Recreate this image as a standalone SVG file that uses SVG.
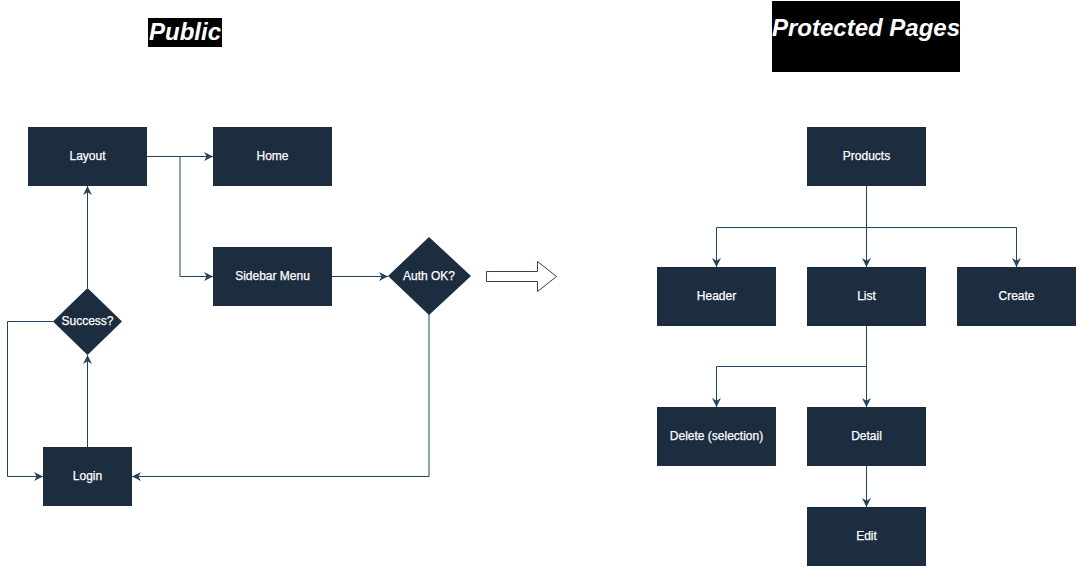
<svg xmlns="http://www.w3.org/2000/svg" width="1077" height="567" viewBox="0 0 1077 567">
<style>
.n{fill:#1b2d3f}
.t{fill:#ffffff;font-family:"Liberation Sans",Arial,sans-serif;font-size:12px;text-anchor:middle;stroke:#ffffff;stroke-width:0.25}
.h{fill:#ffffff;font-family:"Liberation Sans",Arial,sans-serif;font-size:24px;font-weight:bold;font-style:italic;text-anchor:middle}
.e{fill:none;stroke:#23445d;stroke-width:1}
</style>
<defs>
<marker id="a" viewBox="0 0 10 10" refX="10" refY="5" markerWidth="9" markerHeight="9" markerUnits="userSpaceOnUse" orient="auto">
<path d="M0,0 L10,5 L0,10 L3,5 Z" fill="#23445d"/>
</marker>
</defs>
<rect width="1077" height="567" fill="#ffffff"/>
<g id="title-public">
<rect x="148" y="18" width="74" height="29" fill="#000000"/>
<text class="h" x="185" y="40">Public</text>
</g>
<g id="title-protected">
<rect x="772" y="1" width="188" height="71" fill="#000000"/>
<text class="h" x="866" y="36">Protected Pages</text>
</g>
<g id="connectors">
<path class="e" d="M147,156.5 L213,156.5" marker-end="url(#a)"/>
<path class="e" d="M180,156.5 L180,276.5 L213,276.5" marker-end="url(#a)"/>
<path class="e" d="M332,276.5 L388,276.5" marker-end="url(#a)"/>
<path class="e" d="M429,314 L429,476.5 L132,476.5" marker-end="url(#a)"/>
<path class="e" d="M87.5,447 L87.5,355" marker-end="url(#a)"/>
<path class="e" d="M87.5,288 L87.5,186" marker-end="url(#a)"/>
<path class="e" d="M53,321.5 L7.5,321.5 L7.5,476.5 L43,476.5" marker-end="url(#a)"/>
<path class="e" d="M866.5,186 L866.5,267" marker-end="url(#a)"/>
<path class="e" d="M866.5,227.5 L716.5,227.5 L716.5,267" marker-end="url(#a)"/>
<path class="e" d="M866.5,227.5 L1016.5,227.5 L1016.5,267" marker-end="url(#a)"/>
<path class="e" d="M866.5,326 L866.5,407" marker-end="url(#a)"/>
<path class="e" d="M866.5,366.5 L716.5,366.5 L716.5,407" marker-end="url(#a)"/>
<path class="e" d="M866.5,466 L866.5,507" marker-end="url(#a)"/>
</g>
<g id="big-arrow">
<polygon points="486.5,271.5 537.5,271.5 537.5,261.5 556.5,276.5 537.5,291.5 537.5,281.5 486.5,281.5" fill="#ffffff" stroke="#314354" stroke-width="1"/>
</g>
<g id="layout"><rect class="n" x="28" y="127" width="119" height="59"/><text class="t" x="87.5" y="160">Layout</text></g>
<g id="home"><rect class="n" x="213" y="127" width="119" height="59"/><text class="t" x="272.5" y="160">Home</text></g>
<g id="sidebar"><rect class="n" x="213" y="247" width="119" height="59"/><text class="t" x="272.5" y="280">Sidebar Menu</text></g>
<g id="auth"><polygon class="n" points="429,237 471,276 429,315 388,276"/><text class="t" x="429" y="280">Auth OK?</text></g>
<g id="success"><polygon class="n" points="87.5,288 122,321.5 87.5,355 53,321.5"/><text class="t" x="87.5" y="325">Success?</text></g>
<g id="login"><rect class="n" x="43" y="447" width="89" height="59"/><text class="t" x="87.5" y="480">Login</text></g>
<g id="products"><rect class="n" x="807" y="127" width="119" height="59"/><text class="t" x="866.5" y="160">Products</text></g>
<g id="header"><rect class="n" x="657" y="267" width="119" height="59"/><text class="t" x="716.5" y="300">Header</text></g>
<g id="list"><rect class="n" x="807" y="267" width="119" height="59"/><text class="t" x="866.5" y="300">List</text></g>
<g id="create"><rect class="n" x="957" y="267" width="119" height="59"/><text class="t" x="1016.5" y="300">Create</text></g>
<g id="delete"><rect class="n" x="657" y="407" width="119" height="59"/><text class="t" x="716.5" y="440">Delete (selection)</text></g>
<g id="detail"><rect class="n" x="807" y="407" width="119" height="59"/><text class="t" x="866.5" y="440">Detail</text></g>
<g id="edit"><rect class="n" x="807" y="507" width="119" height="59"/><text class="t" x="866.5" y="540">Edit</text></g>
</svg>
